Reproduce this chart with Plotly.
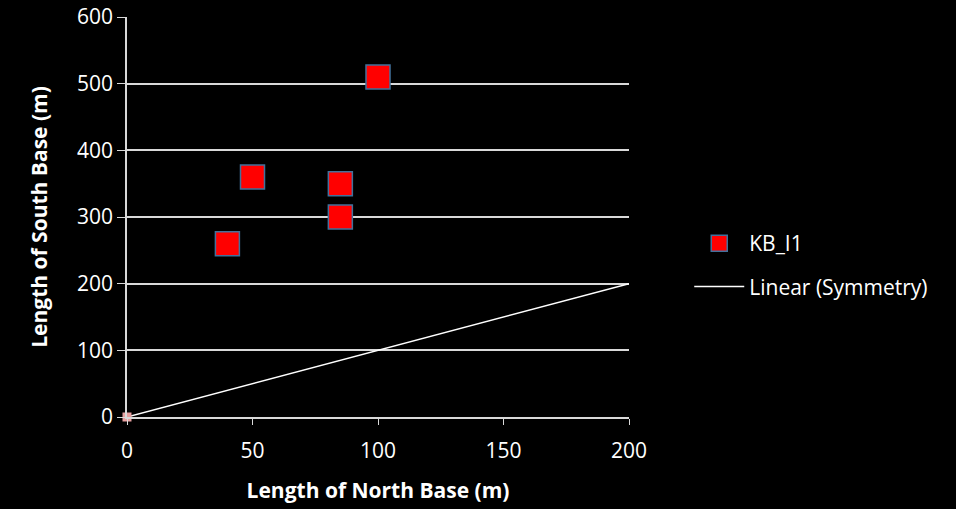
import plotly.graph_objects as go

north_base = [40, 50, 85, 85, 100]
south_base = [260, 360, 350, 300, 510]
sym_x = [0, 200]
sym_y = [0, 200]
origin_x = [0]
origin_y = [0]

FONT = "Open Sans, Lato, sans-serif"
FS = 21

fig = go.Figure()
fig.add_trace(go.Scatter(
    x=sym_x, y=sym_y, mode="lines", name="Linear (Symmetry)", legendgroup="b",
    line=dict(color="white", width=1.5), showlegend=True, legendrank=2))
fig.add_trace(go.Scatter(
    x=origin_x, y=origin_y, mode="markers", showlegend=False, hoverinfo="skip",
    marker=dict(symbol="square", size=9, color="#E8A0A0", line=dict(width=0)),
    cliponaxis=False))
fig.add_trace(go.Scatter(
    x=north_base, y=south_base, mode="markers", name="KB_I1", legendrank=1, legendgroup="a",
    marker=dict(symbol="square", size=24, color="#FF0000",
                line=dict(color="#41719C", width=1.5))))

fig.update_layout(
    width=956, height=509,
    paper_bgcolor="black", plot_bgcolor="black",
    margin=dict(l=127, r=327, t=17, b=92),
    font=dict(family=FONT, color="white", size=FS),
    xaxis=dict(range=[0, 200], tickvals=[0, 50, 100, 150, 200],
               showgrid=False, zeroline=False, showline=True,
               linecolor="#D9D9D9", linewidth=1.5,
               ticks="outside", ticklen=6, tickcolor="#D9D9D9",
               ticklabelstandoff=8, automargin=False,
               tickfont=dict(size=FS, family=FONT),
               title=dict(text="<b>Length of North Base (m)</b>", font=dict(size=FS, family=FONT), standoff=20)),
    yaxis=dict(range=[0, 600], tickvals=[0, 100, 200, 300, 400, 500, 600],
               showgrid=True, gridcolor="#D9D9D9", gridwidth=1.5,
               zeroline=False, showline=True,
               linecolor="#D9D9D9", linewidth=1.5,
               ticks="outside", ticklen=8, tickcolor="#D9D9D9",
               automargin=False,
               tickfont=dict(size=FS, family=FONT),
               title=dict(text="<b>Length of South Base (m)</b>", font=dict(size=FS, family=FONT), standoff=24)),
    legend=dict(x=1.12, y=0.485, xanchor="left", yanchor="top",
                bgcolor="rgba(0,0,0,0)", font=dict(size=FS, family=FONT, color="white"),
                tracegroupgap=13, itemwidth=50),
    showlegend=True,
)

fig.write_html("out.html", config={"displayModeBar": False},
               post_script="document.body.style.margin='0';document.body.style.background='black';")
